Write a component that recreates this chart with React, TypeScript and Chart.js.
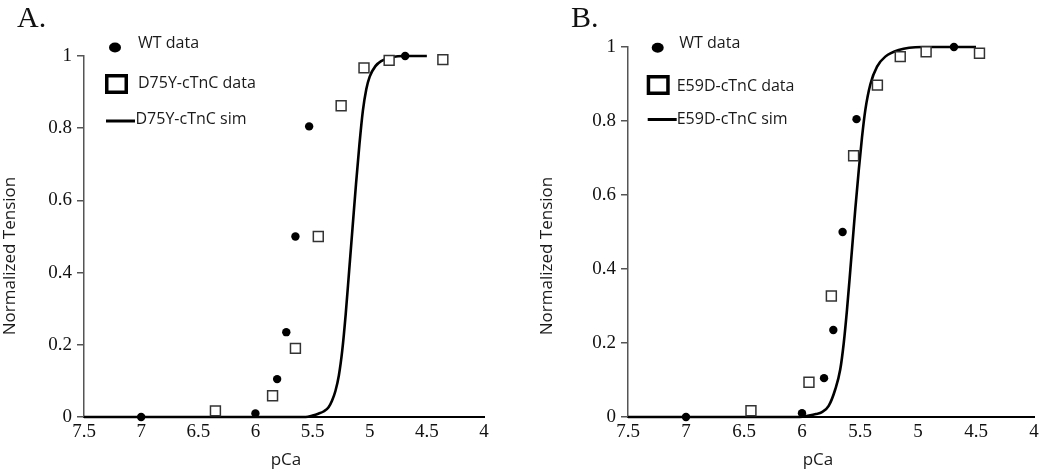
import React, { useEffect, useRef } from "react";
import { Chart, registerables } from "chart.js";

Chart.register(...registerables);

// ---------- data ----------
const X_TICK_LABELS = ["7.5", "7", "6.5", "6", "5.5", "5", "4.5", "4"];
const Y_TICK_LABELS = ["0", "0.2", "0.4", "0.6", "0.8", "1"];

const WT_PCA = [7, 6, 5.81, 5.73, 5.65, 5.53, 4.69];
const WT_TENSION = [0, 0.01, 0.105, 0.235, 0.5, 0.805, 1.0];

const D75Y_PCA = [6.35, 5.85, 5.65, 5.45, 5.25, 5.05, 4.83, 4.36];
const D75Y_TENSION = [0.017, 0.059, 0.19, 0.5, 0.862, 0.967, 0.988, 0.99];

const D75Y_SIM_PCA = [7.5, 5.56, 5.5, 5.45, 5.4, 5.36, 5.33, 5.3, 5.27, 5.24, 5.21, 5.18, 5.15, 5.12, 5.09, 5.06, 5.03, 5.0, 4.95, 4.9, 4.8, 4.7, 4.5];
const D75Y_SIM_TENSION = [0, 0, 0.004, 0.009, 0.016, 0.027, 0.045, 0.072, 0.115, 0.185, 0.285, 0.405, 0.525, 0.645, 0.755, 0.848, 0.908, 0.943, 0.972, 0.986, 0.997, 1.0, 1.0];

const E59D_PCA = [6.44, 5.94, 5.747, 5.555, 5.35, 5.153, 4.93, 4.47];
const E59D_TENSION = [0.017, 0.094, 0.327, 0.706, 0.897, 0.974, 0.987, 0.983];

const E59D_SIM_PCA = [7.5, 6.02, 5.94, 5.88, 5.828, 5.77, 5.713, 5.67, 5.64, 5.612, 5.583, 5.555, 5.54, 5.51, 5.483, 5.454, 5.41, 5.353, 5.282, 5.167, 4.965, 4.5];
const E59D_SIM_TENSION = [0, 0, 0.004, 0.008, 0.013, 0.03, 0.075, 0.129, 0.2, 0.29, 0.399, 0.507, 0.564, 0.669, 0.755, 0.83, 0.9, 0.947, 0.974, 0.992, 1.0, 1.0];

const pts = (xs: number[], ys: number[]) => xs.map((x, i) => ({ x, y: ys[i] }));

const SERIF = "Liberation Serif, Times New Roman, serif";
const SANS = "Open Sans, Noto Sans, sans-serif";

type PanelCfg = {
  left: number;
  width: number;
  area: { left: number; right: number; top: number; bottom: number };
  letter: string;
  letterX: number;
  mutant: string;
  mutPca: number[];
  mutTension: number[];
  simPca: number[];
  simTension: number[];
  legend: {
    circle: [number, number];
    wtText: [number, number];
    square: [number, number, number, number];
    dataText: [number, number];
    line: [number, number, number];
    simText: [number, number];
  };
  yTitle: [number, number];
  xTitle: [number, number];
};

const PANELS: PanelCfg[] = [
  {
    left: 0,
    width: 520,
    area: { left: 84, right: 484, top: 56, bottom: 417 },
    letter: "A.",
    letterX: 17,
    mutant: "D75Y-cTnC",
    mutPca: D75Y_PCA,
    mutTension: D75Y_TENSION,
    simPca: D75Y_SIM_PCA,
    simTension: D75Y_SIM_TENSION,
    legend: {
      circle: [115, 47.5],
      wtText: [138, 43],
      square: [105, 74, 23, 20],
      dataText: [138, 83],
      line: [106, 135, 121],
      simText: [135.5, 119.5],
    },
    yTitle: [10, 256],
    xTitle: [286, 460],
  },
  {
    left: 520,
    width: 530,
    area: { left: 108, right: 514, top: 47, bottom: 417 },
    letter: "B.",
    letterX: 51,
    mutant: "E59D-cTnC",
    mutPca: E59D_PCA,
    mutTension: E59D_TENSION,
    simPca: E59D_SIM_PCA,
    simTension: E59D_SIM_TENSION,
    legend: {
      circle: [137.7, 47.7],
      wtText: [159.3, 43],
      square: [126.7, 75, 23, 20],
      dataText: [156.7, 86],
      line: [127.7, 156.7, 119.5],
      simText: [156.7, 119.5],
    },
    yTitle: [27, 256],
    xTitle: [298, 460],
  },
];

function Panel({ cfg }: { cfg: PanelCfg }) {
  const ref = useRef<HTMLCanvasElement | null>(null);

  useEffect(() => {
    if (!ref.current) return;
    const H = 473;
    const decor = {
      id: "decor",
      afterDraw(chart: any) {
        const ctx = chart.ctx as CanvasRenderingContext2D;
        const L = cfg.legend;
        ctx.save();
        // panel letter
        ctx.fillStyle = "#111";
        ctx.font = `30px ${SERIF}`;
        ctx.textAlign = "left";
        ctx.textBaseline = "alphabetic";
        ctx.fillText(cfg.letter, cfg.letterX, 27);

        // legend
        ctx.fillStyle = "#000";
        ctx.beginPath();
        ctx.ellipse(L.circle[0], L.circle[1], 6, 5, 0, 0, Math.PI * 2);
        ctx.fill();

        ctx.strokeStyle = "#000";
        ctx.lineWidth = 3.5;
        ctx.strokeRect(L.square[0] + 1.75, L.square[1] + 1.75, L.square[2] - 3.5, L.square[3] - 3.5);

        ctx.lineWidth = 3;
        ctx.beginPath();
        ctx.moveTo(L.line[0], L.line[2]);
        ctx.lineTo(L.line[1], L.line[2]);
        ctx.stroke();

        ctx.fillStyle = "#1a1a1a";
        ctx.font = `16px ${SANS}`;
        ctx.textBaseline = "middle";
        ctx.fillText("WT data", L.wtText[0], L.wtText[1]);
        ctx.fillText(`${cfg.mutant} data`, L.dataText[0], L.dataText[1]);
        ctx.fillText(`${cfg.mutant} sim`, L.simText[0], L.simText[1]);

        // axis titles
        ctx.font = `17px ${SANS}`;
        ctx.textAlign = "center";
        ctx.fillText("pCa", cfg.xTitle[0], cfg.xTitle[1]);
        ctx.translate(cfg.yTitle[0], cfg.yTitle[1]);
        ctx.rotate(-Math.PI / 2);
        ctx.fillText("Normalized Tension", 0, 0);
        ctx.restore();
      },
    };

    const tickFont = { family: SERIF, size: 19 };

    const chart = new Chart(ref.current, {
      type: "scatter",
      data: {
        datasets: [
          {
            label: "WT data",
            data: pts(WT_PCA, WT_TENSION),
            pointStyle: "circle",
            pointRadius: 4.2,
            backgroundColor: "#000",
            borderColor: "#000",
            borderWidth: 0,
            order: 1,
            clip: false,
          } as any,
          {
            label: `${cfg.mutant} data`,
            data: pts(cfg.mutPca, cfg.mutTension),
            pointStyle: "rect",
            pointRadius: 7,
            backgroundColor: "#fff",
            borderColor: "#333",
            borderWidth: 1.5,
            order: 2,
            clip: false,
          } as any,
          {
            label: `${cfg.mutant} sim`,
            data: pts(cfg.simPca, cfg.simTension),
            showLine: true,
            pointRadius: 0,
            borderColor: "#000",
            borderWidth: 2.6,
            cubicInterpolationMode: "monotone",
            order: 3,
            clip: false,
          } as any,
        ],
      },
      options: {
        responsive: false,
        animation: false,
        events: [],
        layout: {
          padding: {
            left: 0,
            top: cfg.area.top,
            right: cfg.width - cfg.area.right,
            bottom: 0,
          },
        },
        plugins: {
          legend: { display: false },
          tooltip: { enabled: false },
          title: { display: false },
        },
        scales: {
          x: {
            type: "linear",
            reverse: true,
            min: 4,
            max: 7.5,
            afterFit: (s: any) => {
              s.height = H - cfg.area.bottom;
            },
            afterBuildTicks: (s: any) => {
              s.ticks = X_TICK_LABELS.map((t) => ({ value: parseFloat(t) }));
            },
            ticks: {
              callback: (v: any) => X_TICK_LABELS.find((t) => parseFloat(t) === Number(v)) ?? "",
              font: tickFont,
              color: "#111",
              padding: 4,
              maxRotation: 0,
              autoSkip: false,
            },
            grid: { display: false, drawTicks: false },
            border: { display: true, color: "#000", width: 2 },
          },
          y: {
            type: "linear",
            min: 0,
            max: 1,
            afterFit: (s: any) => {
              s.width = cfg.area.left;
            },
            afterBuildTicks: (s: any) => {
              s.ticks = Y_TICK_LABELS.map((t) => ({ value: parseFloat(t) }));
            },
            ticks: {
              callback: (v: any) => Y_TICK_LABELS.find((t) => parseFloat(t) === Number(v)) ?? "",
              font: tickFont,
              color: "#111",
              padding: 5,
              autoSkip: false,
            },
            grid: {
              display: true,
              drawOnChartArea: false,
              drawTicks: true,
              tickLength: 7,
              color: "#555",
              lineWidth: 1.5,
            },
            border: { display: true, color: "#555", width: 1.5 },
          },
        },
      },
      plugins: [decor],
    } as any);

    return () => chart.destroy();
  }, [cfg]);

  return (
    <canvas
      ref={ref}
      width={cfg.width}
      height={473}
      style={{ position: "absolute", left: cfg.left, top: 0, width: cfg.width, height: 473 }}
    />
  );
}

export default function App() {
  return (
    <div
      style={{
        position: "fixed",
        left: 0,
        top: 0,
        width: 1050,
        height: 473,
        background: "#fff",
        overflow: "hidden",
      }}
    >
      {PANELS.map((p) => (
        <Panel key={p.letter} cfg={p} />
      ))}
    </div>
  );
}
